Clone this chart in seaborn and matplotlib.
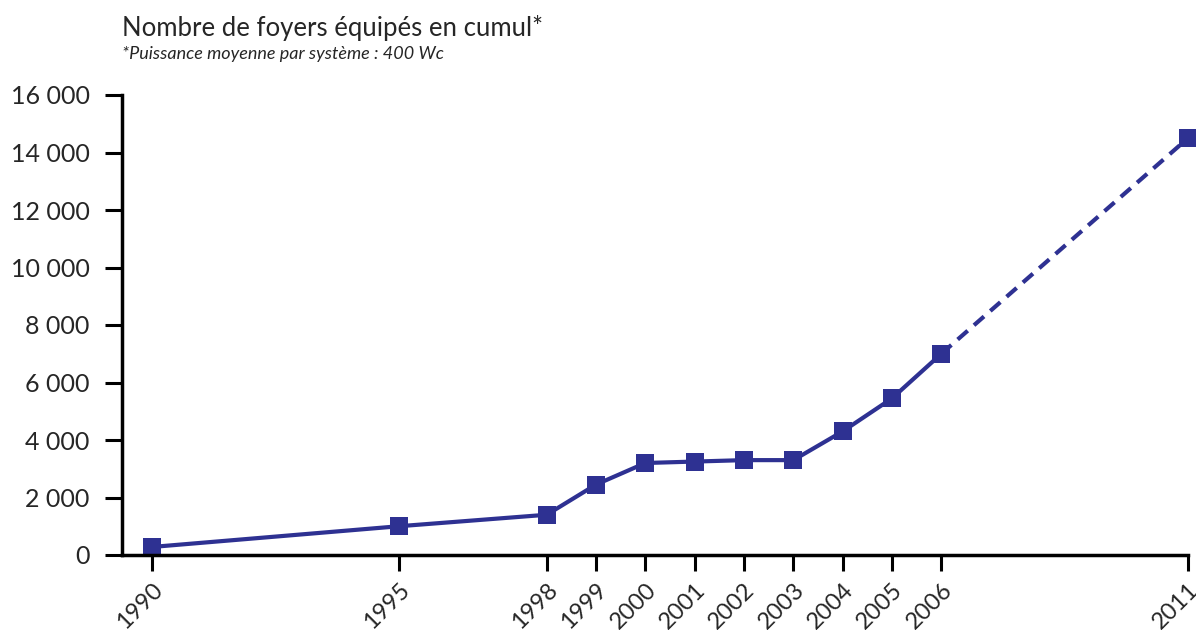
import matplotlib
matplotlib.use("Agg")
import matplotlib.pyplot as plt
import matplotlib.ticker as mticker
import pandas as pd
import seaborn as sns

sns.set_theme()
sns.set_style('white')
plt.rcParams['font.family'] = ['Lato', 'DejaVu Sans']

# data
years = [1990, 1995, 1998, 1999, 2000, 2001, 2002, 2003, 2004, 2005, 2006, 2011]
foyers = [280, 1000, 1400, 2450, 3200, 3250, 3300, 3300, 4300, 5450, 7000, 14500]
last_observed = 2006
y_ticks = [0, 2000, 4000, 6000, 8000, 10000, 12000, 14000, 16000]

title = "Nombre de foyers équipés en cumul*"
subtitle = "*Puissance moyenne par système : 400 Wc"
color = "#2e3192"

df = pd.DataFrame({'year': years, 'foyers': foyers})
observed = df[df['year'] <= last_observed]
projected = df[df['year'] >= last_observed]

fig = plt.figure(figsize=(11.96, 6.3), dpi=100)
ax = fig.add_axes([122 / 1196, 1 - 555 / 630, (1188 - 122) / 1196, (555 - 95) / 630])

sns.lineplot(data=projected, x='year', y='foyers', ax=ax, color=color, lw=3,
             linestyle=(0, (3.2, 2.0)), marker='s', markersize=13, markeredgewidth=0,
             clip_on=False)
sns.lineplot(data=observed, x='year', y='foyers', ax=ax, color=color, lw=3,
             marker='s', markersize=13, markeredgewidth=0, clip_on=False)

ax.set_xlim(1989.39, 2011)
ax.set_ylim(0, 16000)
ax.set_xticks(years)
ax.set_xticklabels([str(y) for y in years], rotation=45, ha='right',
                   rotation_mode='anchor', fontsize=17)
ax.set_yticks(y_ticks)
ax.yaxis.set_major_formatter(mticker.FuncFormatter(lambda v, p: f"{int(v):,}".replace(",", " ")))
ax.tick_params(axis='y', left=True, labelsize=18, length=12.2, width=2.2,
               color='black', pad=11)
ax.tick_params(axis='x', bottom=True, length=11.5, width=2.2, color='black', pad=6)
ax.set_xlabel('')
ax.set_ylabel('')

for side in ['top', 'right']:
    ax.spines[side].set_visible(False)
for side in ['left', 'bottom']:
    ax.spines[side].set_linewidth(2.5)
    ax.spines[side].set_color('black')

fig.text(122 / 1196, 1 - 28 / 630, title, fontsize=18.5, va='center', ha='left')
fig.text(122 / 1196, 1 - 54 / 630, subtitle, fontsize=13, style='italic',
         va='center', ha='left')

fig.savefig("out.png", dpi=100)
